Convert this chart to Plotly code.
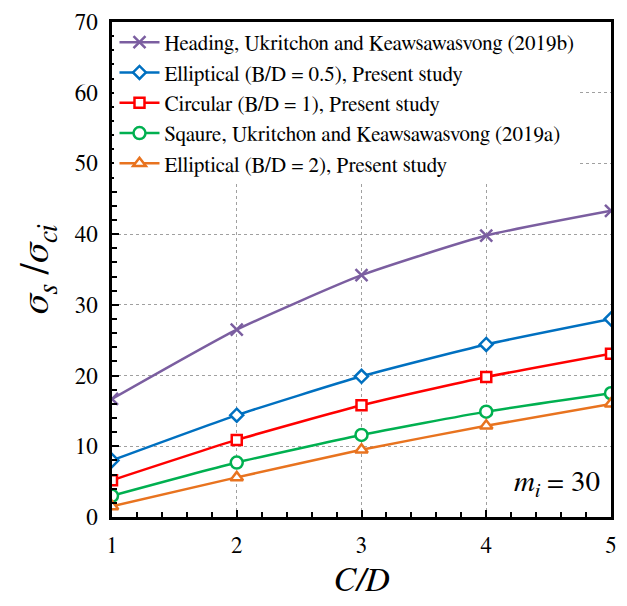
import plotly.graph_objects as go

cd = [1, 2, 3, 4, 5]
heading = [16.7, 26.5, 34.2, 39.8, 43.3]
ellip_05 = [8.0, 14.4, 19.9, 24.4, 28.0]
circular = [5.2, 10.9, 15.8, 19.8, 23.1]
square = [3.0, 7.7, 11.6, 14.9, 17.5]
ellip_2 = [1.5, 5.6, 9.5, 12.9, 16.0]

names = [
    "Heading, Ukritchon and Keawsawasvong (2019b)",
    "Elliptical (B/D = 0.5), Present study",
    "Circular (B/D = 1), Present study",
    "Sqaure, Ukritchon and Keawsawasvong (2019a)",
    "Elliptical (B/D = 2), Present study",
]
series = [heading, ellip_05, circular, square, ellip_2]
colors = ["#7B5EA0", "#0070C0", "#FF0000", "#00B050", "#E8731F"]
symbols = ["x-thin", "diamond", "square", "circle", "triangle-up"]
sizes = [12, 10, 10, 12, 11]

FONT = "FreeSerif"

fig = go.Figure()
for n, ys, c, s, sz in zip(names, series, colors, symbols, sizes):
    fig.add_trace(go.Scatter(
        x=cd, y=ys, name=n, mode="lines+markers",
        line=dict(color=c, width=2.5, shape="spline", smoothing=0.5),
        marker=dict(symbol=s, size=sz, color=c if s == "x-thin" else "white",
                    line=dict(color=c, width=2.5)),
    ))

axis_common = dict(
    showline=True, linecolor="black", linewidth=2.5, mirror=True,
    ticks="inside", ticklen=7, tickwidth=2, tickcolor="black",
    showgrid=True, gridcolor="#A0A0A0", griddash="3px,3px", gridwidth=1,
    zeroline=False,
    tickfont=dict(family=FONT, size=23, color="black"),
)

fig.update_xaxes(
    range=[1, 5], dtick=1, tick0=1, ticklabelstandoff=6,
    minor=dict(dtick=0.2, ticks="inside", ticklen=5, tickwidth=1.5, tickcolor="black", showgrid=False),
    title=dict(text="<i>C/D</i>", font=dict(family=FONT, size=34, color="black"), standoff=10),
    **axis_common,
)
fig.update_yaxes(
    range=[0, 70], dtick=10, ticklabelstandoff=7,
    minor=dict(dtick=2, ticks="inside", ticklen=5, tickwidth=1.5, tickcolor="black", showgrid=False),
    title=dict(text="<i>σ<sub>s</sub></i> /<i>σ<sub>ci</sub></i>", font=dict(family=FONT, size=40, color="black"), standoff=14),
    **axis_common,
)

fig.add_annotation(
    x=4.93, y=4.6, xref="x", yref="y", xanchor="right", yanchor="middle",
    text="<i>m<sub>i</sub></i> = 30", showarrow=False,
    font=dict(family=FONT, size=29, color="black"),
)

fig.update_layout(
    width=627, height=606,
    margin=dict(l=112, r=10, t=22, b=89),
    paper_bgcolor="white", plot_bgcolor="white",
    font=dict(family=FONT),
    showlegend=True,
    legend=dict(
        x=0.005, y=1.0, xanchor="left", yanchor="top",
        bgcolor="rgba(255,255,255,1)", borderwidth=0,
        font=dict(family=FONT, size=21, color="black"),
        itemwidth=40, tracegroupgap=0,
    ),
)

fig.write_html("out.html")
